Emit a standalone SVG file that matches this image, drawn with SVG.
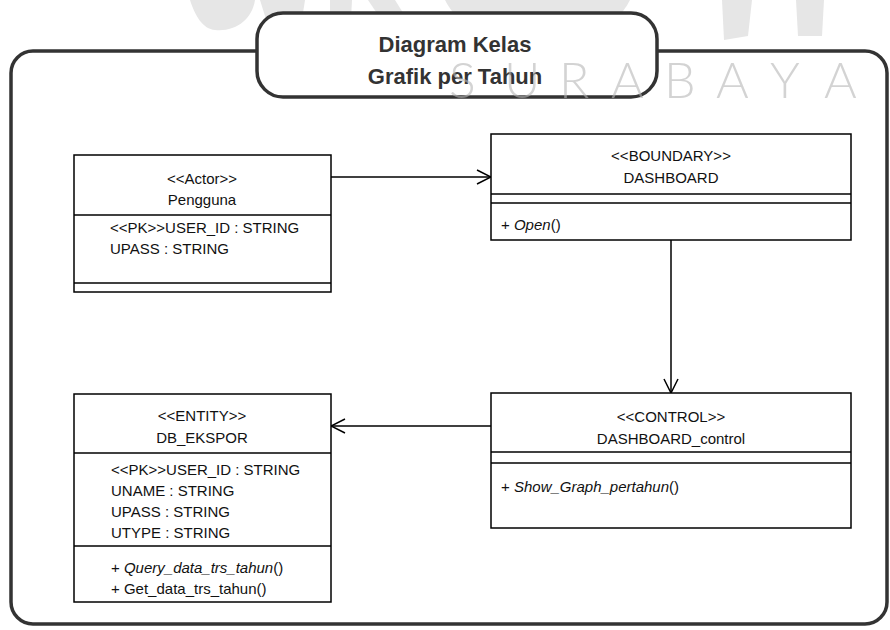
<svg xmlns="http://www.w3.org/2000/svg" width="890" height="630" viewBox="0 0 890 630">
  <defs>
    <style>
      .box { fill: #ffffff; stroke: #000000; stroke-width: 1.5; }
      .sep { stroke: #000000; stroke-width: 1.5; }
      .txt { font-family: "Liberation Sans", Arial, sans-serif; font-size: 15px; fill: #111111; }
      .mid { text-anchor: middle; }
      .it { font-style: italic; }
      .title { font-family: "Liberation Sans", Arial, sans-serif; font-size: 22px; font-weight: bold; fill: #333333; text-anchor: middle; }
      .frame { fill: none; stroke: #333333; stroke-width: 3.5; }
      .link { fill: none; stroke: #000000; stroke-width: 1.5; }
      .wm { fill: #e6e6e6; }
      .wmtext { font-family: Lato, "Liberation Sans", sans-serif; font-weight: 300; font-size: 50px; fill: #b5b5b5; fill-opacity: 0.6; }
    </style>
    <marker id="open" viewBox="0 0 16 16" refX="15" refY="8" markerWidth="16" markerHeight="16" markerUnits="userSpaceOnUse" orient="auto">
      <path d="M1,1 L15,8 L1,15" fill="none" stroke="#000000" stroke-width="1.5"/>
    </marker>
  </defs>

  <rect width="890" height="630" fill="#ffffff"/>

  <!-- faint lettering at the top edge -->
  <g id="watermark-top">
    <path class="wm" d="M190,0 L255,0 C252,20 235,32 215,30 C203,29 195,16 190,0 Z"/>
    <path class="wm" d="M260,0 L305,0 L300,32 L270,32 Z"/>
    <path class="wm" d="M330,0 L352,0 L350,38 L330,38 Z"/>
    <path class="wm" d="M368,0 L395,0 L420,40 L395,40 Z"/>
    <path class="wm" d="M445,0 L630,0 C615,30 580,46 537,46 C494,46 460,30 445,0 Z"/>
    <path class="wm" d="M722,0 L752,0 L748,36 L724,40 Z"/>
    <path class="wm" d="M796,0 L824,0 L822,36 L798,36 Z"/>
  </g>

  <!-- outer frame -->
  <rect class="frame" x="11" y="51" width="876" height="573" rx="22" ry="22"/>

  <!-- title tab -->
  <g id="title">
    <rect x="257" y="13" width="400" height="84" rx="26" ry="26" fill="#ffffff" stroke="#333333" stroke-width="3.5"/>
    <text class="title" x="455" y="52">Diagram Kelas</text>
    <text class="title" x="455" y="84">Grafik per Tahun</text>
  </g>

  <text class="wmtext" x="449 504 559 611 664 716 770 824" y="98">SURABAYA</text>

  <!-- connectors -->
  <g id="connectors">
    <line class="link" x1="331" y1="177" x2="491" y2="177" marker-end="url(#open)"/>
    <line class="link" x1="671" y1="240" x2="671" y2="393" marker-end="url(#open)"/>
    <line class="link" x1="491" y1="426" x2="331" y2="426" marker-end="url(#open)"/>
  </g>

  <!-- actor class -->
  <g id="pengguna">
    <rect class="box" x="74" y="155" width="257" height="137"/>
    <line class="sep" x1="74" y1="215" x2="331" y2="215"/>
    <line class="sep" x1="74" y1="283" x2="331" y2="283"/>
    <text class="txt mid" x="202" y="184">&lt;&lt;Actor&gt;&gt;</text>
    <text class="txt mid" x="202" y="205">Pengguna</text>
    <text class="txt" x="110" y="233">&lt;&lt;PK&gt;&gt;USER_ID : STRING</text>
    <text class="txt" x="110" y="254">UPASS : STRING</text>
  </g>

  <!-- boundary class -->
  <g id="dashboard">
    <rect class="box" x="491" y="134" width="360" height="106"/>
    <line class="sep" x1="491" y1="194" x2="851" y2="194"/>
    <line class="sep" x1="491" y1="203" x2="851" y2="203"/>
    <text class="txt mid" x="671" y="161">&lt;&lt;BOUNDARY&gt;&gt;</text>
    <text class="txt mid" x="671" y="183">DASHBOARD</text>
    <text class="txt" x="501" y="230">+ <tspan class="it">Open</tspan>()</text>
  </g>

  <!-- control class -->
  <g id="dashboard-control">
    <rect class="box" x="491" y="393" width="360" height="135"/>
    <line class="sep" x1="491" y1="452" x2="851" y2="452"/>
    <line class="sep" x1="491" y1="463" x2="851" y2="463"/>
    <text class="txt mid" x="671" y="422">&lt;&lt;CONTROL&gt;&gt;</text>
    <text class="txt mid" x="671" y="444">DASHBOARD_control</text>
    <text class="txt" x="501" y="492">+ <tspan class="it">Show_Graph_pertahun</tspan>()</text>
  </g>

  <!-- entity class -->
  <g id="db-ekspor">
    <rect class="box" x="74" y="394" width="257" height="208"/>
    <line class="sep" x1="74" y1="453" x2="331" y2="453"/>
    <line class="sep" x1="74" y1="546" x2="331" y2="546"/>
    <text class="txt mid" x="202" y="421">&lt;&lt;ENTITY&gt;&gt;</text>
    <text class="txt mid" x="202" y="443">DB_EKSPOR</text>
    <text class="txt" x="111" y="475">&lt;&lt;PK&gt;&gt;USER_ID : STRING</text>
    <text class="txt" x="111" y="496">UNAME : STRING</text>
    <text class="txt" x="111" y="517">UPASS : STRING</text>
    <text class="txt" x="111" y="538">UTYPE : STRING</text>
    <text class="txt" x="111" y="573">+ <tspan class="it">Query_data_trs_tahun</tspan>()</text>
    <text class="txt" x="111" y="594">+ Get_data_trs_tahun()</text>
  </g>
</svg>
